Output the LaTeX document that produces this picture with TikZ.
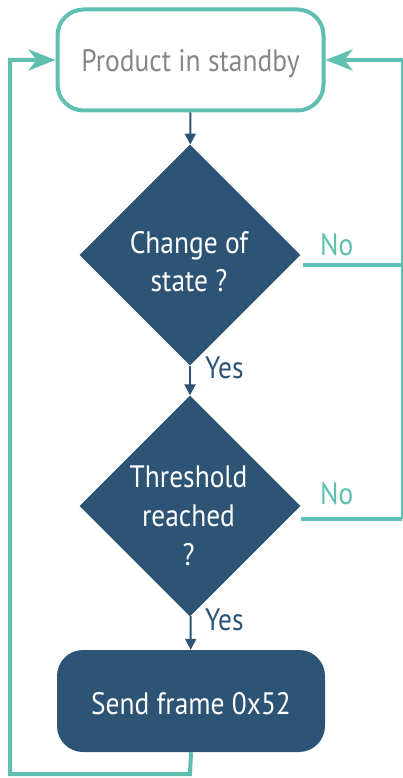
\documentclass[tikz,border=0pt]{standalone}
\usepackage{fontspec}
\setmainfont{PT Sans}[FakeStretch=0.885]
\usetikzlibrary{shapes.geometric,arrows.meta}
\definecolor{teal1}{HTML}{5FBFB1}
\definecolor{navy1}{HTML}{2E5475}
\definecolor{gray1}{HTML}{878787}
\begin{document}
\begin{tikzpicture}[x=1pt,y=-1pt,
  txt/.style={font=\fontsize{31}{36}\selectfont},
  startbox/.style={txt,draw=teal1,line width=4pt,fill=white,rounded corners=26pt,minimum width=266pt,minimum height=101pt,inner sep=0pt,text=gray1,text height=23.4pt,text depth=0pt},
  sendbox/.style={txt,fill=navy1,rounded corners=26pt,minimum width=268pt,minimum height=102pt,inner sep=0pt,text=white,text height=26pt,text depth=0pt},
  dia/.style={diamond,fill=navy1,minimum width=221pt,minimum height=221pt,inner sep=0pt},
  diatext/.style={txt,text=white,anchor=base,inner sep=0pt},
  flow/.style={draw=navy1,line width=2pt,-{Triangle[length=11pt,width=11pt]}},
  loopline/.style={draw=teal1,line width=4pt},
  looparrow/.style={draw=teal1,line width=4pt,-{Stealth[length=27pt,width=21pt,inset=8pt]}},
  yeslab/.style={txt,text=navy1,anchor=base west,inner sep=0pt},
  nolab/.style={txt,text=teal1,anchor=base west,inner sep=0pt}]
\useasboundingbox (0,0) rectangle (403,778);
\node[startbox] (start) at (190.5,60) {Product in standby};
\node[dia] (d1) at (190,255) {};
\node[diatext] (t1a) at (189,253) {Change of};
\node[diatext] (t1b) at (189,291.7) {state ?};
\node[dia] (d2) at (190,506) {};
\node[diatext] (t2a) at (188.5,487.7) {Threshold};
\node[diatext] (t2b) at (188.5,526.3) {reached};
\node[diatext] (t2c) at (188.5,565) {?};
\node[sendbox] (send) at (191,701) {Send frame 0x52};
\draw[flow] (start) -- (d1);
\draw[flow] (d1) -- (d2);
\draw[flow] (d2) -- (send);
\node[yeslab] (y1) at (205,378) {Yes};
\node[yeslab] (y2) at (205,630) {Yes};
\node[nolab] (n1lab) at (320,255) {No};
\node[nolab] (n2lab) at (320,504.3) {No};
\coordinate (n1) at (303,265);
\coordinate (n2) at (301,519);
\coordinate (r1) at (402,265);
\coordinate (r2) at (402,519);
\coordinate (r0) at (402,60);
\coordinate (l0) at (10,60);
\coordinate (l1) at (10,774);
\coordinate (b1) at (190,774);
\draw[loopline] (n1) -- (r1);
\draw[loopline] (n2) -- (r2);
\draw[draw=teal1,line width=2.5pt] (r2) -- (r0);
\draw[looparrow] (403,60) -- (start.east);
\draw[looparrow] (send.south) -- (b1) -- (l1) -- (l0) -- (start.west);
\end{tikzpicture}
\end{document}
